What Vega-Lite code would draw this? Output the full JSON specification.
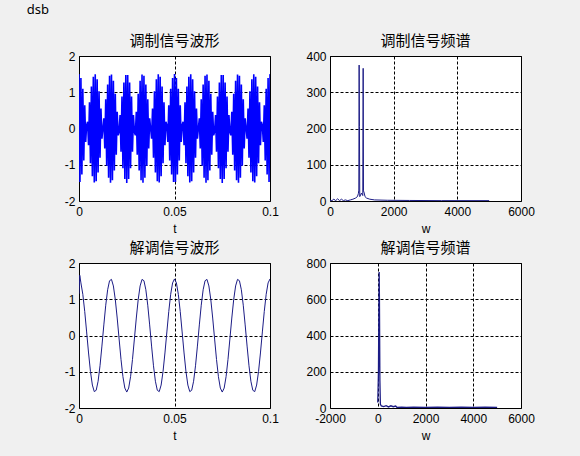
{
  "$schema": "https://vega.github.io/schema/vega-lite/v6.json",
  "background": "#F0F0F0",
  "padding": {"left": 26, "top": 3, "right": 46, "bottom": 14},
  "title": {"text": "dsb", "anchor": "start", "frame": "bounds", "font": "Noto Sans", "fontSize": 13, "fontWeight": "normal", "color": "#000", "offset": 17, "dx": -37},
  "columns": 2,
  "spacing": {"row": 62, "column": 60},
  "bounds": "flush",
  "config": {
    "view": {"stroke": "#000", "strokeWidth": 1, "fill": "#ffffff"},
    "title": {"font": "Noto Sans CJK SC", "fontSize": 15, "fontWeight": "normal", "color": "#000", "offset": 1},
    "axis": {"labelFont": "Liberation Sans", "labelFontSize": 12, "labelColor": "#000", "titleFont": "Liberation Sans", "titleFontSize": 12, "titleFontWeight": "normal", "titleColor": "#000", "grid": true, "gridColor": "#000", "gridOpacity": 1, "gridDash": [3, 2], "gridWidth": 1, "ticks": false, "domain": false, "labelFlush": false, "labelOverlap": false},
    "axisX": {"labelPadding": 5, "titlePadding": 6},
    "axisY": {"labelPadding": 4}
  },
  "datasets": {
    "mod": [
      {"t":0.0000,"v":1.5},{"t":0.0005,"v":-1.473},{"t":0.0010,"v":1.395},{"t":0.0015,"v":-1.266},{"t":0.0020,"v":1.094},{"t":0.0025,"v":-0.882},{"t":0.0030,"v":0.639},{"t":0.0035,"v":-0.373},{"t":0.0040,"v":0.094},{"t":0.0045,"v":0.188},
      {"t":0.0050,"v":-0.464},{"t":0.0055,"v":0.723},{"t":0.0060,"v":-0.956},{"t":0.0065,"v":1.156},{"t":0.0070,"v":-1.314},{"t":0.0075,"v":1.427},{"t":0.0080,"v":-1.488},{"t":0.0085,"v":1.497},{"t":0.0090,"v":-1.453},{"t":0.0095,"v":1.357},
      {"t":0.0100,"v":-1.214},{"t":0.0105,"v":1.027},{"t":0.0110,"v":-0.804},{"t":0.0115,"v":0.552},{"t":0.0120,"v":-0.281},{"t":0.0125,"v":0},{"t":0.0130,"v":0.281},{"t":0.0135,"v":-0.552},{"t":0.0140,"v":0.804},{"t":0.0145,"v":-1.027},
      {"t":0.0150,"v":1.214},{"t":0.0155,"v":-1.357},{"t":0.0160,"v":1.453},{"t":0.0165,"v":-1.497},{"t":0.0170,"v":1.488},{"t":0.0175,"v":-1.427},{"t":0.0180,"v":1.314},{"t":0.0185,"v":-1.156},{"t":0.0190,"v":0.956},{"t":0.0195,"v":-0.723},
      {"t":0.0200,"v":0.464},{"t":0.0205,"v":-0.188},{"t":0.0210,"v":-0.094},{"t":0.0215,"v":0.373},{"t":0.0220,"v":-0.639},{"t":0.0225,"v":0.882},{"t":0.0230,"v":-1.094},{"t":0.0235,"v":1.266},{"t":0.0240,"v":-1.395},{"t":0.0245,"v":1.473},
      {"t":0.0250,"v":-1.5},{"t":0.0255,"v":1.473},{"t":0.0260,"v":-1.395},{"t":0.0265,"v":1.266},{"t":0.0270,"v":-1.094},{"t":0.0275,"v":0.882},{"t":0.0280,"v":-0.639},{"t":0.0285,"v":0.373},{"t":0.0290,"v":-0.094},{"t":0.0295,"v":-0.188},
      {"t":0.0300,"v":0.464},{"t":0.0305,"v":-0.723},{"t":0.0310,"v":0.956},{"t":0.0315,"v":-1.156},{"t":0.0320,"v":1.314},{"t":0.0325,"v":-1.427},{"t":0.0330,"v":1.488},{"t":0.0335,"v":-1.497},{"t":0.0340,"v":1.453},{"t":0.0345,"v":-1.357},
      {"t":0.0350,"v":1.214},{"t":0.0355,"v":-1.027},{"t":0.0360,"v":0.804},{"t":0.0365,"v":-0.552},{"t":0.0370,"v":0.281},{"t":0.0375,"v":0},{"t":0.0380,"v":-0.281},{"t":0.0385,"v":0.552},{"t":0.0390,"v":-0.804},{"t":0.0395,"v":1.027},
      {"t":0.0400,"v":-1.214},{"t":0.0405,"v":1.357},{"t":0.0410,"v":-1.453},{"t":0.0415,"v":1.497},{"t":0.0420,"v":-1.488},{"t":0.0425,"v":1.427},{"t":0.0430,"v":-1.314},{"t":0.0435,"v":1.156},{"t":0.0440,"v":-0.956},{"t":0.0445,"v":0.723},
      {"t":0.0450,"v":-0.464},{"t":0.0455,"v":0.188},{"t":0.0460,"v":0.094},{"t":0.0465,"v":-0.373},{"t":0.0470,"v":0.639},{"t":0.0475,"v":-0.882},{"t":0.0480,"v":1.094},{"t":0.0485,"v":-1.266},{"t":0.0490,"v":1.395},{"t":0.0495,"v":-1.473},
      {"t":0.0500,"v":1.5},{"t":0.0505,"v":-1.473},{"t":0.0510,"v":1.395},{"t":0.0515,"v":-1.266},{"t":0.0520,"v":1.094},{"t":0.0525,"v":-0.882},{"t":0.0530,"v":0.639},{"t":0.0535,"v":-0.373},{"t":0.0540,"v":0.094},{"t":0.0545,"v":0.188},
      {"t":0.0550,"v":-0.464},{"t":0.0555,"v":0.723},{"t":0.0560,"v":-0.956},{"t":0.0565,"v":1.156},{"t":0.0570,"v":-1.314},{"t":0.0575,"v":1.427},{"t":0.0580,"v":-1.488},{"t":0.0585,"v":1.497},{"t":0.0590,"v":-1.453},{"t":0.0595,"v":1.357},
      {"t":0.0600,"v":-1.214},{"t":0.0605,"v":1.027},{"t":0.0610,"v":-0.804},{"t":0.0615,"v":0.552},{"t":0.0620,"v":-0.281},{"t":0.0625,"v":0},{"t":0.0630,"v":0.281},{"t":0.0635,"v":-0.552},{"t":0.0640,"v":0.804},{"t":0.0645,"v":-1.027},
      {"t":0.0650,"v":1.214},{"t":0.0655,"v":-1.357},{"t":0.0660,"v":1.453},{"t":0.0665,"v":-1.497},{"t":0.0670,"v":1.488},{"t":0.0675,"v":-1.427},{"t":0.0680,"v":1.314},{"t":0.0685,"v":-1.156},{"t":0.0690,"v":0.956},{"t":0.0695,"v":-0.723},
      {"t":0.0700,"v":0.464},{"t":0.0705,"v":-0.188},{"t":0.0710,"v":-0.094},{"t":0.0715,"v":0.373},{"t":0.0720,"v":-0.639},{"t":0.0725,"v":0.882},{"t":0.0730,"v":-1.094},{"t":0.0735,"v":1.266},{"t":0.0740,"v":-1.395},{"t":0.0745,"v":1.473},
      {"t":0.0750,"v":-1.5},{"t":0.0755,"v":1.473},{"t":0.0760,"v":-1.395},{"t":0.0765,"v":1.266},{"t":0.0770,"v":-1.094},{"t":0.0775,"v":0.882},{"t":0.0780,"v":-0.639},{"t":0.0785,"v":0.373},{"t":0.0790,"v":-0.094},{"t":0.0795,"v":-0.188},
      {"t":0.0800,"v":0.464},{"t":0.0805,"v":-0.723},{"t":0.0810,"v":0.956},{"t":0.0815,"v":-1.156},{"t":0.0820,"v":1.314},{"t":0.0825,"v":-1.427},{"t":0.0830,"v":1.488},{"t":0.0835,"v":-1.497},{"t":0.0840,"v":1.453},{"t":0.0845,"v":-1.357},
      {"t":0.0850,"v":1.214},{"t":0.0855,"v":-1.027},{"t":0.0860,"v":0.804},{"t":0.0865,"v":-0.552},{"t":0.0870,"v":0.281},{"t":0.0875,"v":0},{"t":0.0880,"v":-0.281},{"t":0.0885,"v":0.552},{"t":0.0890,"v":-0.804},{"t":0.0895,"v":1.027},
      {"t":0.0900,"v":-1.214},{"t":0.0905,"v":1.357},{"t":0.0910,"v":-1.453},{"t":0.0915,"v":1.497},{"t":0.0920,"v":-1.488},{"t":0.0925,"v":1.427},{"t":0.0930,"v":-1.314},{"t":0.0935,"v":1.156},{"t":0.0940,"v":-0.956},{"t":0.0945,"v":0.723},
      {"t":0.0950,"v":-0.464},{"t":0.0955,"v":0.188},{"t":0.0960,"v":0.094},{"t":0.0965,"v":-0.373},{"t":0.0970,"v":0.639},{"t":0.0975,"v":-0.882},{"t":0.0980,"v":1.094},{"t":0.0985,"v":-1.266},{"t":0.0990,"v":1.395},{"t":0.0995,"v":-1.473},
      {"t":0.1000,"v":1.5}
    ],
    "modspec": [
      {"w":0,"a":2},{"w":60,"a":1},{"w":120,"a":5},{"w":180,"a":1},{"w":240,"a":6},{"w":300,"a":1},{"w":360,"a":5},{"w":420,"a":1},{"w":480,"a":3},{"w":560,"a":1},
      {"w":640,"a":3},{"w":720,"a":5},{"w":800,"a":8},{"w":860,"a":12},{"w":890,"a":20},{"w":905,"a":30},{"w":915,"a":375},{"w":925,"a":205},{"w":935,"a":12},{"w":990,"a":22},
      {"w":1030,"a":15},{"w":1042,"a":366},{"w":1052,"a":28},{"w":1075,"a":22},{"w":1100,"a":12},{"w":1150,"a":8},{"w":1250,"a":5},{"w":1400,"a":3},{"w":1800,"a":2},{"w":2500,"a":1.5},
      {"w":3500,"a":1},{"w":5000,"a":1}
    ],
    "demod": [
      {"t":0.000,"v":1.15},{"t":0.0004,"v":1.66},{"t":0.001,"v":1.450},{"t":0.002,"v":1.137},{"t":0.003,"v":0.664},{"t":0.004,"v":0.098},{"t":0.005,"v":-0.482},{"t":0.006,"v":-0.994},{"t":0.007,"v":-1.367},{"t":0.008,"v":-1.548},{"t":0.009,"v":-1.511},
      {"t":0.010,"v":-1.262},{"t":0.011,"v":-0.836},{"t":0.012,"v":-0.292},{"t":0.013,"v":0.292},{"t":0.014,"v":0.836},{"t":0.015,"v":1.262},{"t":0.016,"v":1.511},{"t":0.017,"v":1.548},{"t":0.018,"v":1.367},{"t":0.019,"v":0.994},
      {"t":0.020,"v":0.482},{"t":0.021,"v":-0.098},{"t":0.022,"v":-0.664},{"t":0.023,"v":-1.137},{"t":0.024,"v":-1.450},{"t":0.025,"v":-1.56},{"t":0.026,"v":-1.450},{"t":0.027,"v":-1.137},{"t":0.028,"v":-0.664},{"t":0.029,"v":-0.098},
      {"t":0.030,"v":0.482},{"t":0.031,"v":0.994},{"t":0.032,"v":1.367},{"t":0.033,"v":1.548},{"t":0.034,"v":1.511},{"t":0.035,"v":1.262},{"t":0.036,"v":0.836},{"t":0.037,"v":0.292},{"t":0.038,"v":-0.292},{"t":0.039,"v":-0.836},
      {"t":0.040,"v":-1.262},{"t":0.041,"v":-1.511},{"t":0.042,"v":-1.548},{"t":0.043,"v":-1.367},{"t":0.044,"v":-0.994},{"t":0.045,"v":-0.482},{"t":0.046,"v":0.098},{"t":0.047,"v":0.664},{"t":0.048,"v":1.137},{"t":0.049,"v":1.450},
      {"t":0.050,"v":1.56},{"t":0.051,"v":1.450},{"t":0.052,"v":1.137},{"t":0.053,"v":0.664},{"t":0.054,"v":0.098},{"t":0.055,"v":-0.482},{"t":0.056,"v":-0.994},{"t":0.057,"v":-1.367},{"t":0.058,"v":-1.548},{"t":0.059,"v":-1.511},
      {"t":0.060,"v":-1.262},{"t":0.061,"v":-0.836},{"t":0.062,"v":-0.292},{"t":0.063,"v":0.292},{"t":0.064,"v":0.836},{"t":0.065,"v":1.262},{"t":0.066,"v":1.511},{"t":0.067,"v":1.548},{"t":0.068,"v":1.367},{"t":0.069,"v":0.994},
      {"t":0.070,"v":0.482},{"t":0.071,"v":-0.098},{"t":0.072,"v":-0.664},{"t":0.073,"v":-1.137},{"t":0.074,"v":-1.450},{"t":0.075,"v":-1.56},{"t":0.076,"v":-1.450},{"t":0.077,"v":-1.137},{"t":0.078,"v":-0.664},{"t":0.079,"v":-0.098},
      {"t":0.080,"v":0.482},{"t":0.081,"v":0.994},{"t":0.082,"v":1.367},{"t":0.083,"v":1.548},{"t":0.084,"v":1.511},{"t":0.085,"v":1.262},{"t":0.086,"v":0.836},{"t":0.087,"v":0.292},{"t":0.088,"v":-0.292},{"t":0.089,"v":-0.836},
      {"t":0.090,"v":-1.262},{"t":0.091,"v":-1.511},{"t":0.092,"v":-1.548},{"t":0.093,"v":-1.367},{"t":0.094,"v":-0.994},{"t":0.095,"v":-0.482},{"t":0.096,"v":0.098},{"t":0.097,"v":0.664},{"t":0.098,"v":1.137},{"t":0.099,"v":1.450},
      {"t":0.100,"v":1.56}
    ],
    "demodspec": [
      {"w":0,"a":30},{"w":10,"a":80},{"w":30,"a":200},{"w":50,"a":600},{"w":60,"a":750},{"w":70,"a":600},{"w":90,"a":150},{"w":110,"a":20},{"w":150,"a":12},{"w":250,"a":8},
      {"w":350,"a":13},{"w":450,"a":6},{"w":550,"a":12},{"w":650,"a":7},{"w":750,"a":11},{"w":800,"a":4},{"w":1000,"a":5},{"w":1200,"a":3},{"w":1500,"a":4},{"w":2000,"a":3},
      {"w":2500,"a":4},{"w":3000,"a":3},{"w":3500,"a":4},{"w":4000,"a":3},{"w":4500,"a":4},{"w":5000,"a":3}
    ]
  },
  "concat": [
    {
      "title": "调制信号波形",
      "width": 191, "height": 145,
      "data": {"name": "mod"},
      "mark": {"type": "line", "color": "#0000FF", "strokeWidth": 1.6, "clip": true},
      "encoding": {
        "x": {"field": "t", "type": "quantitative", "scale": {"domain": [0, 0.1], "nice": false, "zero": false}, "axis": {"values": [0, 0.05, 0.1], "title": "t", "labelExpr": "'' + datum.value"}},
        "y": {"field": "v", "type": "quantitative", "scale": {"domain": [-2, 2], "nice": false, "zero": false}, "axis": {"values": [-2, -1, 0, 1, 2], "title": null, "labelExpr": "'' + datum.value"}}
      }
    },
    {
      "title": "调制信号频谱",
      "width": 191, "height": 145,
      "data": {"name": "modspec"},
      "mark": {"type": "line", "color": "#1C1C86", "strokeWidth": 1, "clip": true},
      "encoding": {
        "x": {"field": "w", "type": "quantitative", "scale": {"domain": [0, 6000], "nice": false, "zero": false}, "axis": {"values": [0, 2000, 4000, 6000], "title": "w", "labelExpr": "'' + datum.value"}},
        "y": {"field": "a", "type": "quantitative", "scale": {"domain": [0, 400], "nice": false, "zero": false}, "axis": {"values": [0, 100, 200, 300, 400], "title": null, "labelExpr": "'' + datum.value"}}
      }
    },
    {
      "title": "解调信号波形",
      "width": 191, "height": 145,
      "data": {"name": "demod"},
      "mark": {"type": "line", "color": "#1C1C86", "strokeWidth": 1, "clip": true},
      "encoding": {
        "x": {"field": "t", "type": "quantitative", "scale": {"domain": [0, 0.1], "nice": false, "zero": false}, "axis": {"values": [0, 0.05, 0.1], "title": "t", "labelExpr": "'' + datum.value"}},
        "y": {"field": "v", "type": "quantitative", "scale": {"domain": [-2, 2], "nice": false, "zero": false}, "axis": {"values": [-2, -1, 0, 1, 2], "title": null, "labelExpr": "'' + datum.value"}}
      }
    },
    {
      "title": "解调信号频谱",
      "width": 191, "height": 145,
      "data": {"name": "demodspec"},
      "mark": {"type": "line", "color": "#1C1C86", "strokeWidth": 1.3, "clip": true},
      "encoding": {
        "x": {"field": "w", "type": "quantitative", "scale": {"domain": [-2000, 6000], "nice": false, "zero": false}, "axis": {"values": [-2000, 0, 2000, 4000, 6000], "title": "w", "labelExpr": "'' + datum.value"}},
        "y": {"field": "a", "type": "quantitative", "scale": {"domain": [0, 800], "nice": false, "zero": false}, "axis": {"values": [0, 200, 400, 600, 800], "title": null, "labelExpr": "'' + datum.value"}}
      }
    }
  ]
}
